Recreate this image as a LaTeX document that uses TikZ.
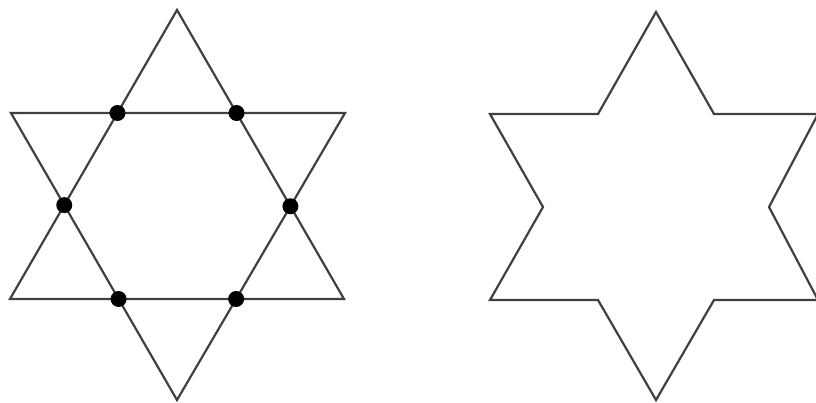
\documentclass[tikz,border=0pt]{standalone}
\usepackage{tikz}
\usetikzlibrary{calc}

\tikzset{
  edge/.style={draw=black!75, line width=2.2pt},
  joint/.style={circle, fill=black, inner sep=0pt, minimum size=16pt}
}

\begin{document}
\begin{tikzpicture}[x=1pt, y=-1pt]
  \useasboundingbox (0,0) rectangle (816,403);
  \clip (0,0) rectangle (816,403);

  % left star: two crossed triangles
  \coordinate (up) at (177,10);
  \coordinate (upl) at (10,299);
  \coordinate (upr) at (344,299);
  \coordinate (dnl) at (11,113);
  \coordinate (dnr) at (345,113);
  \coordinate (dn) at (177,400);

  \draw[edge] (up) -- (upl) -- (upr) -- cycle;
  \draw[edge] (dnl) -- (dnr) -- (dn) -- cycle;

  % crossing points
  \node[joint] (c1) at (intersection of up--upl and dnl--dnr) {};
  \node[joint] (c2) at (intersection of up--upr and dnl--dnr) {};
  \node[joint] (c3) at (intersection of up--upl and dnl--dn) {};
  \node[joint] (c4) at (intersection of up--upr and dnr--dn) {};
  \node[joint] (c5) at (intersection of upl--upr and dnl--dn) {};
  \node[joint] (c6) at (intersection of upl--upr and dnr--dn) {};

  % right star: outline only
  \foreach \x/\y [count=\i] in {656/12, 714/114, 818/114, 769/207,
                                818/300, 714/300, 656/400, 598/300,
                                490/300, 543/207, 490/114, 598/114}
    \coordinate (s\i) at (\x,\y);

  \draw[edge] (s1) -- (s2) -- (s3) -- (s4) -- (s5) -- (s6)
           -- (s7) -- (s8) -- (s9) -- (s10) -- (s11) -- (s12) -- cycle;
\end{tikzpicture}
\end{document}
